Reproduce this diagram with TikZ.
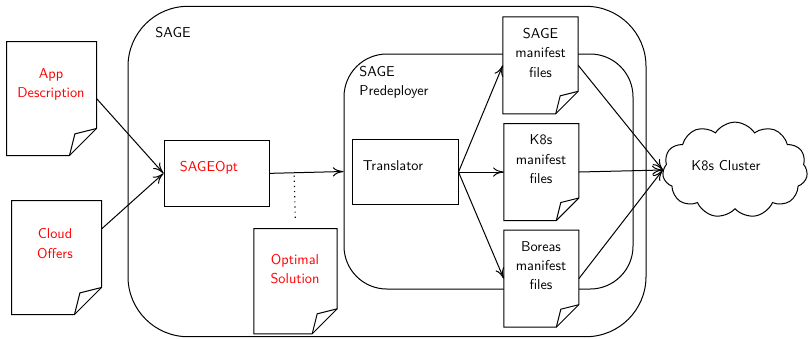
\documentclass[tikz,border=0pt]{standalone}
\usetikzlibrary{shapes.symbols,arrows.meta,calc,fit}
% document with a folded bottom-right corner: name, top-left, bottom-right, fold size
\newcommand{\DocNode}[4]{%
  \node[fit={#2 #3}, inner sep=0pt] (#1) {};
  \draw[docline] (#1.north west) -- (#1.north east) -- ($(#1.south east)+(0,-#4)$)
    -- ($(#1.south east)+(-#4,0)$) -- (#1.south west) -- cycle;
  \draw[line join=round] ($(#1.south east)+(-#4,0)$) -- ($(#1.south east)+(-0.8*#4,-0.8*#4)$)
    -- ($(#1.south east)+(0,-#4)$);
}
\begin{document}
\begin{tikzpicture}[x=0.7pt,y=-0.7pt, line width=0.7pt,
  >={To[length=7.5pt,width=6.5pt]},
  txt/.style={font=\sffamily\fontsize{10}{13.5}\selectfont, align=center},
  redtxt/.style={txt, text=red},
  docline/.style={draw, fill=white, line join=miter},
  box/.style={inner sep=0pt, draw, fill=white},
  conn/.style={->},
  hint/.style={line width=0.8pt, dash pattern=on 0.8pt off 2.8pt},
]
\useasboundingbox (0,0) rectangle (808,338);

% containers
\node[fit={(128,6.3) (646,336.7)}, inner sep=0pt, draw, rounded corners=42pt] (sage) {};
\node[txt, anchor=west] (sageT) at (150.2,32.7) {SAGE};
\node[fit={(344,54) (633,289)}, inner sep=0pt, draw, rounded corners=30pt] (pre) {};
\node[txt, anchor=west, align=left] (preT) at (354.2,82.2) {SAGE\\Predeployer};

% processing boxes
\node[box, fit={(164,140.7) (269.3,206)}] (opt) {};
\node[redtxt] (optT) at (209,168) {SAGEOpt};
\node[box, fit={(352.7,139.3) (458,204.7)}] (tr) {};
\node[txt] (trT) at (393,166) {Translator};

% documents
\DocNode{app}{(7,42)}{(96,155)}{27}
\node[redtxt] (appT) at (51,84.5) {App\\Description};
\DocNode{co}{(12,201)}{(101,314)}{27}
\node[redtxt] (coT) at (55,243.5) {Cloud\\Offers};
\DocNode{sol}{(254.3,229)}{(336.7,333.3)}{25}
\node[redtxt] (solT) at (295,269) {Optimal\\Solution};
\DocNode{sagemf}{(503.3,17.3)}{(577.7,113.3)}{22.5}
\node[txt] (sagemfT) at (540.5,52.7) {SAGE\\manifest\\files};
\DocNode{k8smf}{(504.3,124)}{(578.3,220)}{22.5}
\node[txt] (k8smfT) at (541,159.3) {K8s\\manifest\\files};
\DocNode{bmf}{(504.3,230.7)}{(578.3,326.7)}{22.5}
\node[txt] (bmfT) at (541,265.5) {Boreas\\manifest\\files};

% target cluster
\node[cloud, draw, fill=white, cloud puffs=11, cloud puff arc=115, aspect=1.5,
      minimum width=101.5pt, minimum height=67pt, inner sep=0pt] (k8s) at (735,170) {};
\node[txt] (k8sT) at (726,166) {K8s Cluster};

% connectors
\draw[conn] (app.east) -- (opt.west);
\draw[conn] ($(co.north east)!0.25!(co.south east)$) -- (opt.west);
\draw[conn] (opt.east) -- (pre.west);
\coordinate (tap) at ($(opt.east)!(sol.north)!(pre.west)$);
\draw[hint, shorten <=2pt, shorten >=5pt] (tap) -- (sol.north);
\draw[conn] (tr.east) -- (sagemf.west);
\draw[conn] (tr.east) -- (k8smf.west);
\draw[conn] (tr.east) -- (bmf.west);
\draw[conn] (sagemf.east) -- (k8s.west);
\draw[conn] (k8smf.east) -- (k8s.west);
\draw[conn] (bmf.east) -- (k8s.west);
\end{tikzpicture}
\end{document}
